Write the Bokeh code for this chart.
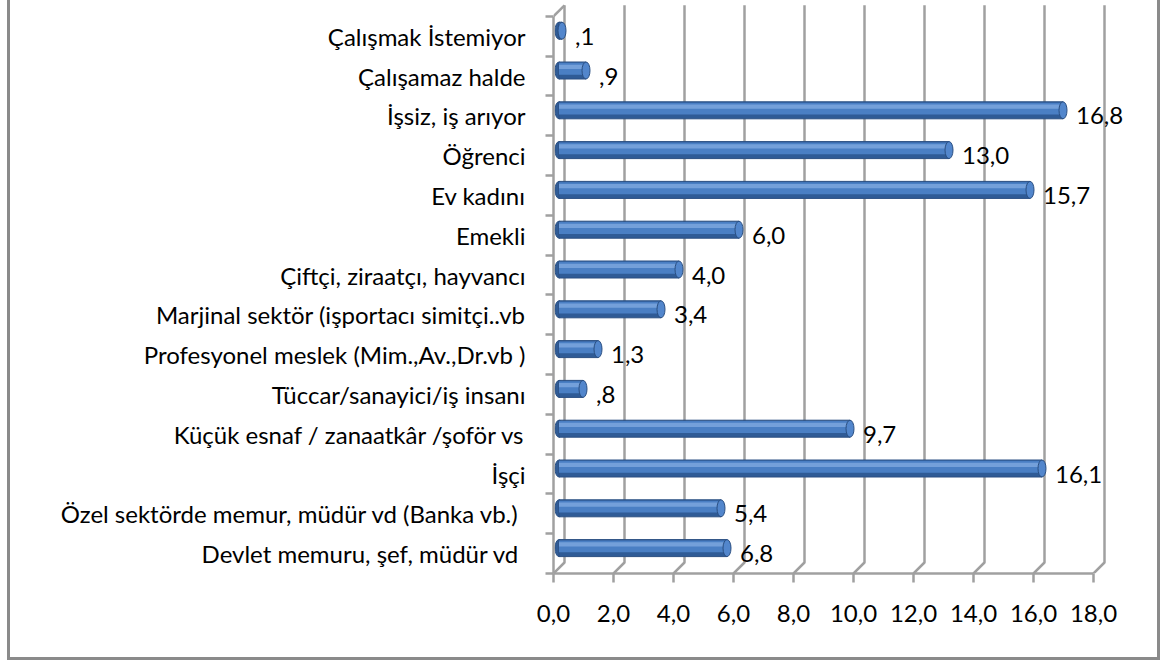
from bokeh.plotting import figure
from bokeh.models import FixedTicker, Range1d
from bokeh.core.properties import value
from bokeh.embed import file_html
from bokeh.resources import INLINE

# ---- data (bottom to top) ----
categories = [
    "Devlet memuru, şef, müdür  vd",
    "Özel sektörde memur, müdür  vd (Banka vb.)",
    "İşçi",
    "Küçük esnaf / zanaatkâr /şoför vs",
    "Tüccar/sanayici/iş insanı",
    "Profesyonel meslek (Mim.,Av.,Dr.vb )",
    "Marjinal sektör (işportacı simitçi..vb",
    "Çiftçi, ziraatçı, hayvancı",
    "Emekli",
    "Ev kadını",
    "Öğrenci",
    "İşsiz, iş arıyor",
    "Çalışamaz halde",
    "Çalışmak İstemiyor",
]
bar_values = [5.6, 5.4, 16.1, 9.7, 0.8, 1.3, 3.4, 4.0, 6.0, 15.7, 13.0, 16.8, 0.9, 0.1]
value_labels = ["6,8", "5,4", "16,1", "9,7", ",8", "1,3", "3,4", "4,0", "6,0",
                "15,7", "13,0", "16,8", ",9", ",1"]
x_ticks = [0, 2, 4, 6, 8, 10, 12, 14, 16, 18]
x_tick_labels = ["0,0", "2,0", "4,0", "6,0", "8,0", "10,0", "12,0", "14,0", "16,0", "18,0"]

FONT = "Lato"
FS = "24px"
GRID = "#a0a0a0"
n = len(categories)

PX_X = 30.0     # pixels per x unit
PX_Y = 39.8     # pixels per category
dx = 11 / PX_X  # 3D depth offset
dy = 11 / PX_Y

W, H = 1160, 660
ml, mr, mt, mb = 553, 3, 0, 87
x_end = (W - ml - mr) / PX_X
y_end = (H - mt - mb) / PX_Y

p = figure(width=W, height=H, output_backend="svg", toolbar_location=None,
           x_range=Range1d(0, x_end), y_range=Range1d(0, y_end),
           min_border_left=ml, min_border_right=mr, min_border_top=mt,
           min_border_bottom=mb, background_fill_color=None,
           border_fill_color=None, outline_line_color=None)
p.xgrid.visible = False
p.ygrid.visible = False
# outer chart border (left, right, bottom) painted behind the transparent canvas
p.styles = {"box-shadow": "inset 7px 0 0 #ffffff, inset 10px 0 0 #8a8a8a, "
                          "inset -3px 0 0 #8a8a8a, inset 0 -3px 0 #8a8a8a"}

# ---- back wall gridlines with floor diagonals ----
gx, gy = [], []
for t in x_ticks:
    gx.append([t, t + dx, t + dx])
    gy.append([0, dy, n + dy])
gx.append([0, dx]); gy.append([n, n + dy])   # left wall top edge
p.multi_line(gx, gy, line_color=GRID, line_width=2.5)

# ---- cylinders ----
yc = [i + 0.5 + dy / 2 for i in range(n)]
left = dx / 2
rights = [v + dx / 2 for v in bar_values]
bh = 17 / PX_Y
cap_w = 8 / PX_X
p.ellipse(x=[left] * n, y=yc, width=cap_w, height=bh,
          fill_color="#2f5b96", line_color="#2a4f82", line_width=1)
p.hbar(y=yc, left=left, right=rights, height=bh,
       fill_color="#2f5b96", line_color="#2a4f82", line_width=1)
p.hbar(y=[y + 0.1 * bh for y in yc], left=left, right=rights, height=0.7 * bh,
       fill_color="#4a7fc4", line_color=None)
p.hbar(y=[y + 0.22 * bh for y in yc], left=left, right=rights, height=0.25 * bh,
       fill_color="#74a0da", line_color=None)
p.ellipse(x=rights, y=yc, width=cap_w, height=bh,
          fill_color="#5286cc", line_color="#2a4f82", line_width=1)

# ---- value labels ----
p.text(x=rights, y=[i + 0.5 for i in range(n)], text=value_labels,
       x_offset=13, text_font=value(FONT), text_font_size=FS,
       text_color="black", text_align="left", text_baseline="middle")

# ---- axes ----
xa = p.xaxis[0]
xa.ticker = FixedTicker(ticks=x_ticks)
xa.major_label_overrides = dict(zip(x_ticks, x_tick_labels))
xa.bounds = (0, 18)
xa.axis_line_color = GRID
xa.axis_line_width = 2.5
xa.major_tick_line_color = GRID
xa.major_tick_line_width = 2.5
xa.major_tick_out = 9
xa.major_tick_in = 0
xa.minor_tick_line_color = None
xa.major_label_standoff = 22
xa.major_label_text_font = FONT
xa.major_label_text_font_size = FS
xa.major_label_text_color = "black"

ya = p.yaxis[0]
centers = [i + 0.5 for i in range(n)]
ya.ticker = FixedTicker(ticks=centers, minor_ticks=list(range(n + 1)))
ya.major_label_overrides = dict(zip(centers, categories))
ya.bounds = (0, n)
ya.axis_line_color = GRID
ya.axis_line_width = 2.5
ya.major_tick_line_color = None
ya.major_tick_out = 0
ya.major_tick_in = 0
ya.minor_tick_line_color = GRID
ya.minor_tick_line_width = 2.5
ya.minor_tick_out = 8
ya.minor_tick_in = 0
ya.major_label_standoff = 20
ya.major_label_text_font = FONT
ya.major_label_text_font_size = FS
ya.major_label_text_color = "black"

open("out.html", "w").write(file_html(p, INLINE))
